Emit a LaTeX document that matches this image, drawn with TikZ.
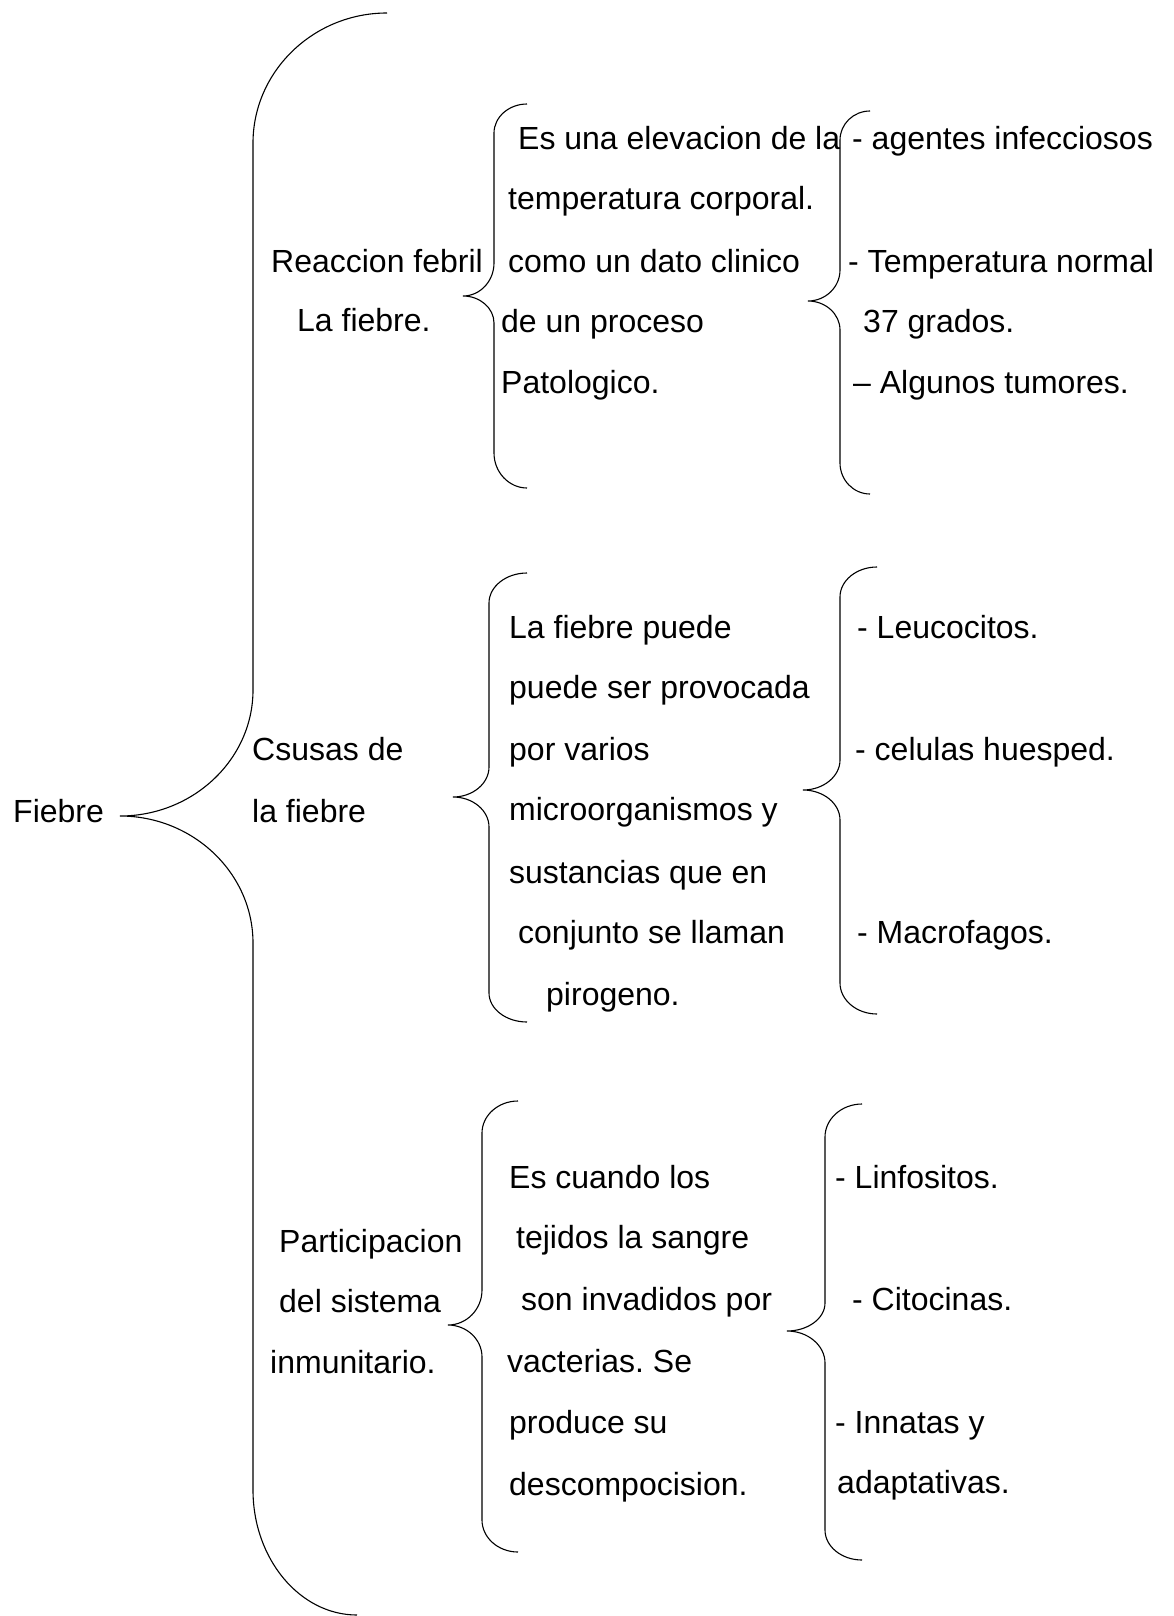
\documentclass[tikz,border=0pt]{standalone}
\usepackage{fontspec}
\setmainfont{Liberation Sans}
\frenchspacing
\begin{document}
\begin{tikzpicture}[x=1pt,y=-1pt,
  txt/.style={anchor=base west, inner sep=0pt, font=\fontsize{32}{38}\selectfont},
  bracepath/.style={line width=1.1pt, black}]
\useasboundingbox[fill=white] (0,0) rectangle (1173,1616);

% ---------- texts ----------
\node[txt] (fiebre) at (13,822) {Fiebre};

\node[txt] (r1) at (271,272) {Reaccion febril};
\node[txt] (r2) at (297,331) {La fiebre.};

\node[txt] (a1) at (518,150) {Es una elevacion de la};
\node[txt] (a2) at (508,210) {temperatura corporal.};
\node[txt] (a3) at (508,272) {como un dato clinico};
\node[txt] (a4) at (501,332) {de un proceso};
\node[txt] (a5) at (501,393) {Patologico.};

\node[txt] (ai1) at (852,150) {- agentes infecciosos};
\node[txt] (ai2) at (848,272) {- Temperatura normal};
\node[txt] (ai3) at (863,332) {37 grados.};
\node[txt] (ai4) at (853,393) {– Algunos tumores.};

\node[txt] (c1) at (252,760) {Csusas de};
\node[txt] (c2) at (252,822) {la fiebre};

\node[txt] (b1) at (509,638) {La fiebre puede};
\node[txt] (b2) at (509,698) {puede ser provocada};
\node[txt] (b3) at (509,760) {por varios};
\node[txt] (b4) at (509,820) {microorganismos y};
\node[txt] (b5) at (509,883) {sustancias que en};
\node[txt] (b6) at (518,943) {conjunto se llaman};
\node[txt] (b7) at (546,1005) {pirogeno.};

\node[txt] (bi1) at (857,638) {- Leucocitos.};
\node[txt] (bi2) at (855,760) {- celulas huesped.};
\node[txt] (bi3) at (857,943) {- Macrofagos.};

\node[txt] (p1) at (279,1252) {Participacion};
\node[txt] (p2) at (279,1312) {del sistema};
\node[txt] (p3) at (270,1373) {inmunitario.};

\node[txt] (d1) at (509,1188) {Es cuando los};
\node[txt] (d2) at (516,1248) {tejidos la sangre};
\node[txt] (d3) at (521,1310) {son invadidos por};
\node[txt] (d4) at (507,1372) {vacterias. Se};
\node[txt] (d5) at (509,1433) {produce su};
\node[txt] (d6) at (509,1495) {descompocision.};

\node[txt] (di1) at (835,1188) {- Linfositos.};
\node[txt] (di2) at (852,1310) {- Citocinas.};
\node[txt] (di3) at (835,1433) {- Innatas y};
\node[txt] (di4) at (837,1493) {adaptativas.};

% ---------- brace tips ----------
\coordinate (tipMain) at (120,816);
\coordinate (tipA1) at (463,296);
\coordinate (tipA2) at (808,301);
\coordinate (tipB1) at (453,797);
\coordinate (tipB2) at (803,790);
\coordinate (tipC1) at (448,1325);
\coordinate (tipC2) at (787,1331);

% ---------- braces ----------
% main brace
\draw[bracepath] (387,13) .. controls (313.3,13) and (253,71.5) .. (253,143)
  -- (253,690) .. controls (253,759.3) and (193.2,816) .. (tipMain)
  .. controls (193.2,816) and (253,873.2) .. (253,943)
  -- (253,1490) .. controls (253,1558.75) and (299.8,1615) .. (357,1615);

% A1
\draw[bracepath] (527,104) .. controls (508.9,104) and (494,117.05) .. (494,133)
  -- (494,263) .. controls (494,281.2) and (480.05,296) .. (tipA1)
  .. controls (480.05,296) and (494,308.15) .. (494,323)
  -- (494,453) .. controls (494,472.25) and (508.9,488) .. (527,488);

% A2
\draw[bracepath] (870,111) .. controls (853.5,111) and (840,124.05) .. (840,140)
  -- (840,270) .. controls (840,287.05) and (825.6,301) .. (tipA2)
  .. controls (825.6,301) and (840,314.05) .. (840,330)
  -- (840,463) .. controls (840,480.05) and (853.5,494) .. (870,494);

% B1
\draw[bracepath] (527,573) .. controls (506.1,573) and (489,586.5) .. (489,603)
  -- (489,767) .. controls (489,783.5) and (472.8,797) .. (tipB1)
  .. controls (472.8,797) and (489,810.5) .. (489,827)
  -- (489,993) .. controls (489,1008.95) and (506.1,1022) .. (527,1022);

% B2
\draw[bracepath] (877,567) .. controls (856.65,567) and (840,580.5) .. (840,597)
  -- (840,760) .. controls (840,776.5) and (823.35,790) .. (tipB2)
  .. controls (823.35,790) and (840,803.5) .. (840,820)
  -- (840,983) .. controls (840,1000.05) and (856.65,1014) .. (877,1014);

% C1
\draw[bracepath] (518,1101) .. controls (498.2,1101) and (482,1115.4) .. (482,1133)
  -- (482,1290) .. controls (482,1309.25) and (466.7,1325) .. (tipC1)
  .. controls (466.7,1325) and (482,1339.4) .. (482,1357)
  -- (482,1520) .. controls (482,1537.6) and (498.2,1552) .. (518,1552);

% C2
\draw[bracepath] (862,1104) .. controls (841.65,1104) and (825,1118.85) .. (825,1137)
  -- (825,1303) .. controls (825,1318.4) and (807.9,1331) .. (tipC2)
  .. controls (807.9,1331) and (825,1345.4) .. (825,1363)
  -- (825,1530) .. controls (825,1546.5) and (841.65,1560) .. (862,1560);
\end{tikzpicture}
\end{document}
